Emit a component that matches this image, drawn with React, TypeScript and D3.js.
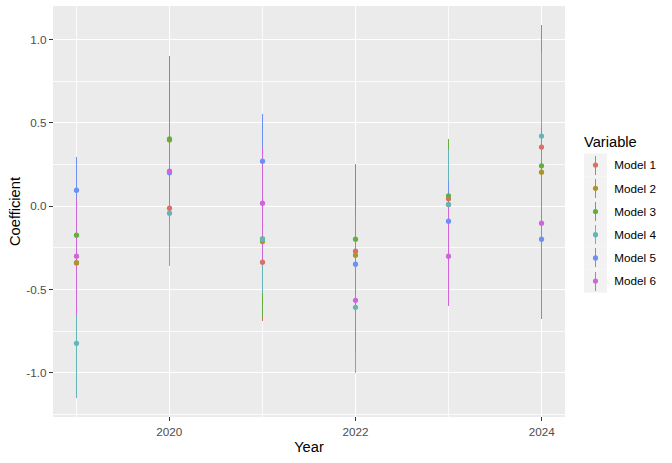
import React from "react";
import * as d3 from "d3";

const years = [2019, 2020, 2021, 2022, 2023, 2024];
const models = ["Model 1", "Model 2", "Model 3", "Model 4", "Model 5", "Model 6"];
const colors = ["#DB6F66", "#A89530", "#63AE3C", "#63B5BA", "#6E8FF5", "#D064DD"];

const m1Est = [-0.34, -0.012, -0.336, -0.27, 0.044, 0.354];
const m1Lo = [-0.6, -0.3, -0.687, -0.55, -0.25, -0.1];
const m1Hi = [-0.08, 0.28, 0.015, 0.01, 0.3, 0.8];

const m2Est = [-0.338, 0.397, -0.212, -0.294, 0.01, 0.204];
const m2Lo = [-0.62, 0.0, -0.55, -0.6, -0.3, -0.675];
const m2Hi = [-0.05, 0.8, 0.12, 0.0, 0.3, 1.088];

const m3Est = [-0.174, 0.404, -0.196, -0.198, 0.062, 0.242];
const m3Lo = [-0.5, -0.096, -0.672, -0.65, -0.28, -0.2];
const m3Hi = [0.02, 0.902, 0.28, 0.254, 0.404, 0.7];

const m4Est = [-0.822, -0.042, -0.2, -0.606, 0.01, 0.42];
const m4Lo = [-1.152, -0.357, -0.522, -0.999, -0.318, -0.08];
const m4Hi = [-0.49, 0.273, 0.12, -0.213, 0.338, 0.922];

const m5Est = [0.096, 0.2, 0.27, -0.348, -0.09, -0.198];
const m5Lo = [-0.104, 0.0, -0.014, -0.652, -0.328, -0.6];
const m5Hi = [0.296, 0.4, 0.554, -0.044, 0.148, 0.2];

const m6Est = [-0.3, 0.21, 0.018, -0.564, -0.3, -0.102];
const m6Lo = [-0.65, -0.09, -0.33, -0.874, -0.597, -0.672];
const m6Hi = [0.048, 0.51, 0.352, -0.254, -0.003, 0.468];

const estimates = [m1Est, m2Est, m3Est, m4Est, m5Est, m6Est];
const lowers = [m1Lo, m2Lo, m3Lo, m4Lo, m5Lo, m6Lo];
const uppers = [m1Hi, m2Hi, m3Hi, m4Hi, m5Hi, m6Hi];

const xMajor = [2020, 2022, 2024];
const xMinor = [2019, 2021, 2023];
const yMajor = [-1.0, -0.5, 0.0, 0.5, 1.0];
const yMinor = [-1.25, -0.75, -0.25, 0.25, 0.75];

const W = 672;
const H = 463;
const panel = { left: 53, right: 565, top: 6, bottom: 417 };
const font = "'Liberation Sans', Arial, sans-serif";

const px = (v: number) => Math.floor(v) + 0.5;

export default function App() {
  const allLo = d3.min(lowers.flat()) as number;
  const allHi = d3.max(uppers.flat()) as number;
  const yPad = (allHi - allLo) * 0.05;
  const xExt = d3.extent(years) as [number, number];
  const xPad = (xExt[1] - xExt[0]) * 0.05;

  const x = d3.scaleLinear().domain([xExt[0] - xPad, xExt[1] + xPad]).range([panel.left, panel.right]);
  const y = d3.scaleLinear().domain([allLo - yPad, allHi + yPad]).range([panel.bottom, panel.top]);

  const legendX = 584;
  const legendTop = 153.5;
  const keyH = 23.2;
  const keyW = 23;

  return (
    <svg
      width={W}
      height={H}
      style={{ position: "absolute", left: 0, top: 0, background: "#FFFFFF" }}
      fontFamily={font}
    >
      <rect x={0} y={0} width={W} height={H} fill="#FFFFFF" />
      <rect
        x={panel.left}
        y={panel.top}
        width={panel.right - panel.left}
        height={panel.bottom - panel.top}
        fill="#EBEBEB"
      />
      <g shapeRendering="crispEdges">
        {yMinor.map((v) => (
          <line key={"ym" + v} x1={panel.left} x2={panel.right} y1={px(y(v))} y2={px(y(v))} stroke="#FFFFFF" strokeWidth={1} strokeOpacity={0.8} />
        ))}
        {xMinor.map((v) => (
          <line key={"xm" + v} x1={px(x(v))} x2={px(x(v))} y1={panel.top} y2={panel.bottom} stroke="#FFFFFF" strokeWidth={1} strokeOpacity={0.8} />
        ))}
        {yMajor.map((v) => (
          <line key={"yM" + v} x1={panel.left} x2={panel.right} y1={px(y(v))} y2={px(y(v))} stroke="#FFFFFF" strokeWidth={1} />
        ))}
        {xMajor.map((v) => (
          <line key={"xM" + v} x1={px(x(v))} x2={px(x(v))} y1={panel.top} y2={panel.bottom} stroke="#FFFFFF" strokeWidth={1} />
        ))}

        {/* line ranges */}
        {models.map((m, i) =>
          years.map((yr, j) => (
            <line
              key={"lr" + i + "-" + j}
              x1={px(x(yr))}
              x2={px(x(yr))}
              y1={y(lowers[i][j])}
              y2={y(uppers[i][j])}
              stroke={colors[i]}
              strokeWidth={1}
            />
          ))
        )}
      </g>
      {/* points */}
      {models.map((m, i) =>
        years.map((yr, j) => (
          <circle key={"pt" + i + "-" + j} cx={px(x(yr))} cy={y(estimates[i][j])} r={2.6} fill={colors[i]} />
        ))
      )}

      {/* axes ticks */}
      <g shapeRendering="crispEdges">
        {yMajor.map((v) => (
          <line key={"ytl" + v} x1={panel.left - 3.7} x2={panel.left} y1={px(y(v))} y2={px(y(v))} stroke="#333333" strokeWidth={1} />
        ))}
        {xMajor.map((v) => (
          <line key={"xtl" + v} x1={px(x(v))} x2={px(x(v))} y1={panel.bottom} y2={panel.bottom + 3.7} stroke="#333333" strokeWidth={1} />
        ))}
      </g>
      {yMajor.map((v) => (
        <text key={"yt" + v} x={panel.left - 6.5} y={y(v) + 4.3} textAnchor="end" fontSize={11.7} fill="#4D4D4D">
          {d3.format(".1f")(v).replace("−", "-")}
        </text>
      ))}
      {xMajor.map((v) => (
        <text key={"xt" + v} x={x(v)} y={436} textAnchor="middle" fontSize={11.7} fill="#4D4D4D">
          {String(v)}
        </text>
      ))}

      <text x={(panel.left + panel.right) / 2} y={452} textAnchor="middle" fontSize={14.67} fill="#000000">
        Year
      </text>
      <text
        transform={`translate(20, ${(panel.top + panel.bottom) / 2}) rotate(-90)`}
        textAnchor="middle"
        fontSize={14.67}
        fill="#000000"
      >
        Coefficient
      </text>

      {/* legend */}
      <text x={legendX} y={146.7} fontSize={14.67} fill="#000000">
        Variable
      </text>
      {models.map((m, i) => {
        const cy = legendTop + keyH * i + keyH / 2;
        const cx = legendX + keyW / 2;
        return (
          <g key={"lg" + i}>
            <rect x={legendX} y={legendTop + keyH * i} width={keyW} height={keyH} fill="#F2F2F2" />
            <line x1={px(cx)} x2={px(cx)} y1={cy - 9.5} y2={cy + 9.5} stroke={colors[i]} strokeWidth={1} shapeRendering="crispEdges" />
            <circle cx={px(cx)} cy={cy} r={2.6} fill={colors[i]} />
            <text x={614.3} y={cy + 4.2} fontSize={11.7} fill="#000000">
              {m}
            </text>
          </g>
        );
      })}
    </svg>
  );
}
